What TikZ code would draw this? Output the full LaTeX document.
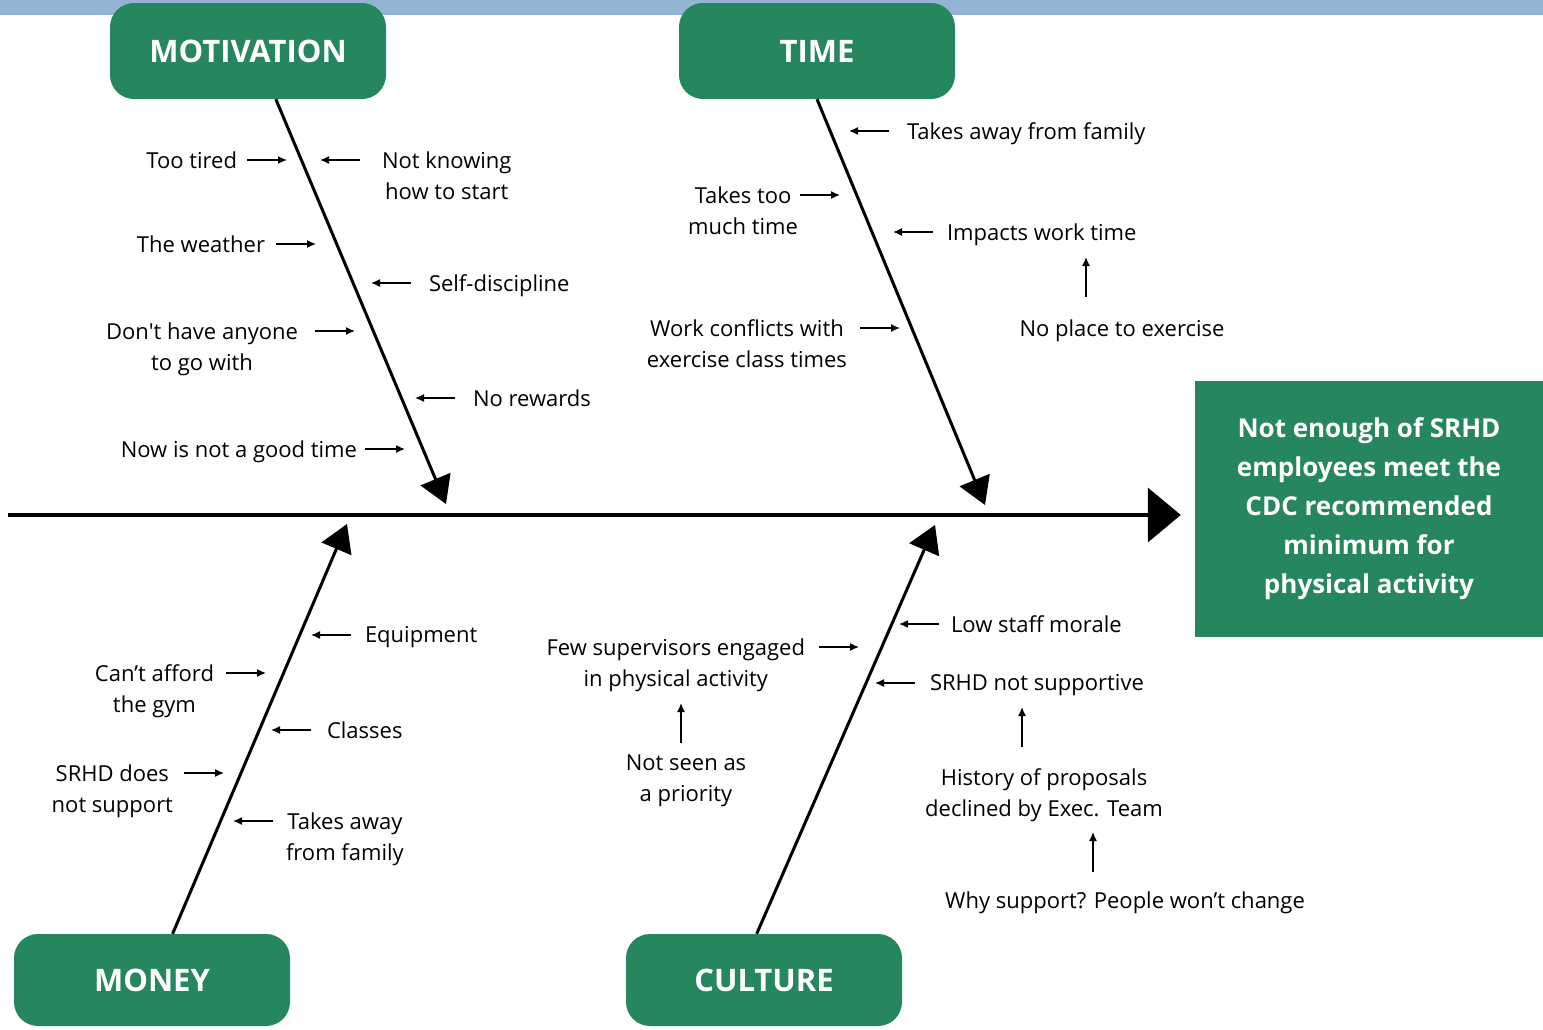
\documentclass[tikz,border=0pt]{standalone}
\usepackage{fontspec}
\setmainfont{Open Sans}
\usetikzlibrary{arrows.meta,positioning}
\definecolor{fishgreen}{RGB}{38,134,94}
\definecolor{bandblue}{RGB}{147,181,211}
\tikzset{
  basic/.style  = {inner sep=0pt, outer sep=0pt, font=\fontsize{22}{31}\selectfont},
  cause/.style  = {rectangle, rounded corners=24pt, fill=fishgreen, text=white,
                   minimum width=276pt, minimum height=96pt,
                   font=\fontsize{31}{36}\selectfont\bfseries},
  effect/.style = {rectangle, fill=fishgreen, text=white, align=center,
                   minimum width=348pt, minimum height=256pt,
                   font=\fontsize{26}{39}\selectfont\bfseries},
  why/.style    = {basic, align=center},
  spine/.style  = {line width=4pt, -{Triangle[length=33pt,width=54pt]}},
  bone/.style   = {line width=3pt, -{Triangle[length=27pt,width=32pt]}},
  twig/.style   = {line width=1.4pt, -{Latex[length=9pt,width=8pt]}}
}

\begin{document}
\begin{tikzpicture}[x=1pt, y=-1pt]
\useasboundingbox (0,0) rectangle (1543,1029);
\fill[bandblue] (0,0) rectangle (1543,15);

% the four causes and the effect
\node[cause] (mot)  at (248,51) {MOTIVATION};
\node[cause] (time) at (817,51) {TIME};
\node[cause, minimum height=92pt] (money) at (152,980) {MONEY};
\node[cause, minimum height=92pt] (cult)  at (764,980) {CULTURE};
\node[effect] (eff) at (1369,509) {Not enough of SRHD\\employees meet the\\CDC recommended\\minimum for\\physical activity};

% spine and bones
\coordinate (tail) at (8,515);
\draw[spine, shorten >=14pt] (tail) -- (eff.west |- tail);

\coordinate (mtip) at (446,504);
\coordinate (ttip) at (985,505);
\coordinate (ytip) at (347,524);
\coordinate (ctip) at (935,525);
\draw[bone] (mot.300) -- (mtip);
\draw[bone] (time.south) -- (ttip);
\draw[bone] (money.66) -- (ytip);
\draw[bone] (cult.99) -- (ctip);

% where the small arrows hit the bones
\coordinate (m1) at (287,160);
\coordinate (m2) at (320,160);
\coordinate (m3) at (316,244);
\coordinate (m4) at (371,283);
\coordinate (m5) at (355,331);
\coordinate (m6) at (415,398);
\coordinate (m7) at (405,449);
\coordinate (t1) at (849,131);
\coordinate (t2) at (840,195);
\coordinate (t3) at (893,232);
\coordinate (t4) at (1086,257);
\coordinate (t5) at (900,328);
\coordinate (y1) at (311,635);
\coordinate (y2) at (266,673);
\coordinate (y3) at (271,730);
\coordinate (y4) at (224,773);
\coordinate (y5) at (233,821);
\coordinate (c1) at (899,624);
\coordinate (c2) at (859,647);
\coordinate (c3) at (875,683);
\coordinate (c4) at (681,703);
\coordinate (c5) at (1022,707);
\coordinate (c6) at (1093,832);

% motivation
\begin{scope}[every node/.style={why, yshift=8.5pt}]
\node[left=50pt of m1, anchor=north east]  (tired)   {Too tired};
\node[right=62pt of m2, anchor=north west] (knowing) {Not knowing\\how to start};
\node[left=51pt of m3, anchor=north east]  (weather) {The weather};
\node[right=58pt of m4, anchor=north west] (discip)  {Self-discipline};
\node[left=57pt of m5, anchor=north east]  (anyone)  {Don\textquotesingle t have anyone\\to go with};
\node[right=58pt of m6, anchor=north west] (rewards) {No rewards};
\node[left=48pt of m7, anchor=north east]  (now)     {Now is not a good time};

% time
\node[right=58pt of t1, anchor=north west] (family)  {Takes away from family};
\node[left=42pt of t2, anchor=north east]  (toomuch) {Takes too\\much time};
\node[right=54pt of t3, anchor=north west] (impacts) {Impacts work time};
\node[anchor=north] (noplace) at (1122,328) {No place to exercise};
\node[left=53pt of t5, anchor=north east]  (classes) {Work conflicts with\\exercise class times};

% money
\node[right=54pt of y1, anchor=north west] (equip)   {Equipment};
\node[left=52pt of y2, anchor=north east]  (afford)  {Can’t afford\\the gym};
\node[right=56pt of y3, anchor=north west] (clss)    {Classes};
\node[left=51pt of y4, anchor=north east]  (nosup)   {SRHD does\\not support};
\node[right=53pt of y5, anchor=north west] (away)    {Takes away\\from family};

% culture
\node[right=52pt of c1, anchor=north west] (morale)  {Low staff morale};
\node[left=54pt of c2, anchor=north east]  (few)     {Few supervisors engaged\\in physical activity};
\node[right=55pt of c3, anchor=north west] (srhd)    {SRHD not supportive};
\node[anchor=north] (priority) at (686,763) {Not seen as\\a priority};
\node[anchor=north] (history)  at (1044,777) {History of proposals\\declined by Exec. Team};
\node[anchor=north] (people)   at (1125,900) {Why support? People won’t change};
\end{scope}

% arrows from the causes on the left of a bone
\foreach \lbl/\tip/\gap in {tired/m1/10, weather/m3/11, anyone/m5/17, now/m7/8,
    toomuch/t2/2, classes/t5/13, afford/y2/12, nosup/y4/11, few/c2/14}
  \draw[twig, shorten <=\gap pt] (\lbl.east |- \tip) -- (\tip);

% arrows from the causes on the right of a bone
\foreach \lbl/\tip/\gap in {knowing/m2/22, discip/m4/18, rewards/m6/18, family/t1/18,
    impacts/t3/14, equip/y1/14, clss/y3/16, away/y5/13, morale/c1/12, srhd/c3/15}
  \draw[twig, shorten <=\gap pt] (\lbl.west |- \tip) -- (\tip);

% arrows from one cause up to another
\foreach \lbl/\tip/\gap in {noplace/t4/23, priority/c4/12, history/c5/22, people/c6/20}
  \draw[twig, shorten <=\gap pt] (\lbl.north -| \tip) -- (\tip);

\end{tikzpicture}
\end{document}
